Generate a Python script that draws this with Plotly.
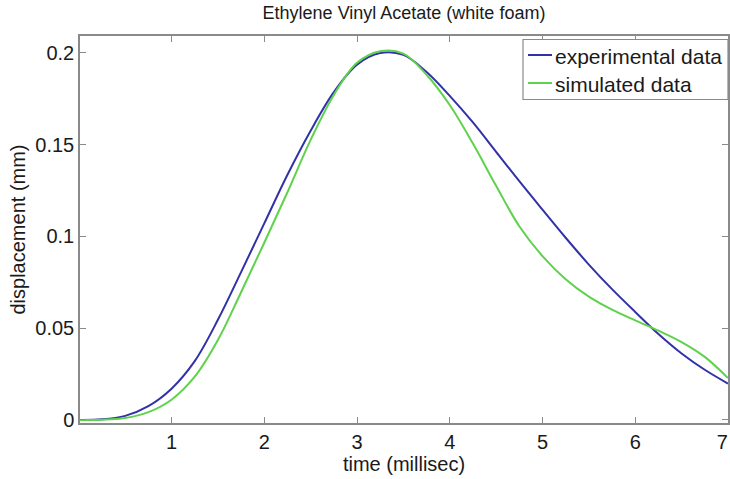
import plotly.graph_objects as go

# time axis (ms) and measured / simulated displacement (mm)
time_ms = [0, 0.25, 0.5, 0.75, 1.0, 1.25, 1.5, 1.75, 2.0, 2.25, 2.5, 2.75,
           3.0, 3.25, 3.5, 3.75, 4.0, 4.25, 4.5, 4.75, 5.0, 5.25, 5.5, 5.75,
           6.0, 6.25, 6.5, 6.75, 7.0]
experimental = [0, 0.0003, 0.0022, 0.0075, 0.0170, 0.0320, 0.0545, 0.0805,
                0.1070, 0.1335, 0.1575, 0.1785, 0.1935, 0.1998, 0.1988, 0.1895,
                0.1765, 0.1620, 0.1460, 0.1300, 0.1145, 0.0992, 0.0846, 0.0712,
                0.0588, 0.0468, 0.0362, 0.0273, 0.0198]
simulated = [0, 0.0001, 0.0010, 0.0042, 0.0110, 0.0235, 0.0435, 0.0695,
             0.0965, 0.1240, 0.1525, 0.1770, 0.1945, 0.2008, 0.1995, 0.1880,
             0.1715, 0.1505, 0.1275, 0.1055, 0.0892, 0.0766, 0.0671, 0.0600,
             0.0542, 0.0486, 0.0424, 0.0343, 0.0228]

x_ticks = [1, 2, 3, 4, 5, 6, 7]
# the last label is padded so it stays inside the page edge
x_tick_text = ["1", "2", "3", "4", "5", "6", "7\u00a0\u00a0"]
y_ticks = [0, 0.05, 0.1, 0.15, 0.2]
y_tick_text = ["0", "0.05", "0.1", "0.15", "0.2"]

series_names = ["experimental data", "simulated data"]
series_colors = ["#3232a8", "#5fd24c"]

W, H = 730, 479
L, R, T, B = 80, 2, 36, 56
PW, PH = W - L - R, H - T - B
FONT = "Liberation Sans, Arial, Helvetica, sans-serif"
AXIS_GRAY = "#8a8a8a"


def px_x(px):
    return (px - L) / PW


def px_y(py):
    return (T + PH - py) / PH


fig = go.Figure()
for name, ys, col in zip(series_names, [experimental, simulated], series_colors):
    fig.add_trace(go.Scatter(
        x=time_ms, y=ys, mode="lines", name=name,
        line=dict(color=col, width=2, shape="spline", smoothing=1.0),
        showlegend=False,
    ))

axis_common = dict(
    showline=True, linecolor=AXIS_GRAY, linewidth=1.5, mirror="ticks",
    ticks="inside", ticklen=6, tickcolor=AXIS_GRAY, tickwidth=1,
    showgrid=False, zeroline=False, ticklabeloverflow="allow", automargin=False,
    tickfont=dict(family=FONT, size=20, color="#1a1a1a"),
)

fig.update_xaxes(
    range=[0.013, 7.0005], tickmode="array", tickvals=x_ticks, ticktext=x_tick_text,
    title=dict(text="time (millisec)", font=dict(family=FONT, size=20, color="#1a1a1a"),
               standoff=4),
    **axis_common,
)
fig.update_yaxes(
    range=[-0.0017, 0.2091], tickmode="array", tickvals=y_ticks, ticktext=y_tick_text,
    title=dict(text="displacement (mm)", font=dict(family=FONT, size=20, color="#1a1a1a"),
               standoff=4),
    **axis_common,
)

# legend box drawn as shapes + text
shapes = [dict(type="rect", xref="paper", yref="paper",
               x0=px_x(523), x1=px_x(728), y0=px_y(99.5), y1=px_y(39.5),
               line=dict(color=AXIS_GRAY, width=1.2), fillcolor="white", layer="above")]
annotations = []
for i, (name, col) in enumerate(zip(series_names, series_colors)):
    ly = 55 + 28 * i
    shapes.append(dict(type="line", xref="paper", yref="paper",
                       x0=px_x(528), x1=px_x(552), y0=px_y(ly), y1=px_y(ly),
                       line=dict(color=col, width=2), layer="above"))
    annotations.append(dict(xref="paper", yref="paper", x=px_x(553), y=px_y(ly + 2),
                            xanchor="left", yanchor="middle", showarrow=False,
                            text=name, font=dict(family=FONT, size=21, color="#1a1a1a")))

fig.update_layout(
    width=W, height=H,
    margin=dict(l=L, r=R, t=T, b=B, autoexpand=False),
    paper_bgcolor="white", plot_bgcolor="white",
    title=dict(text="Ethylene Vinyl Acetate (white foam)", x=px_x(404), xref="paper",
               xanchor="center", y=1 - 13 / H, yref="container", yanchor="middle",
               font=dict(family=FONT, size=18, color="#1a1a1a")),
    shapes=shapes, annotations=annotations,
    showlegend=False,
)

fig.write_html("out.html")
